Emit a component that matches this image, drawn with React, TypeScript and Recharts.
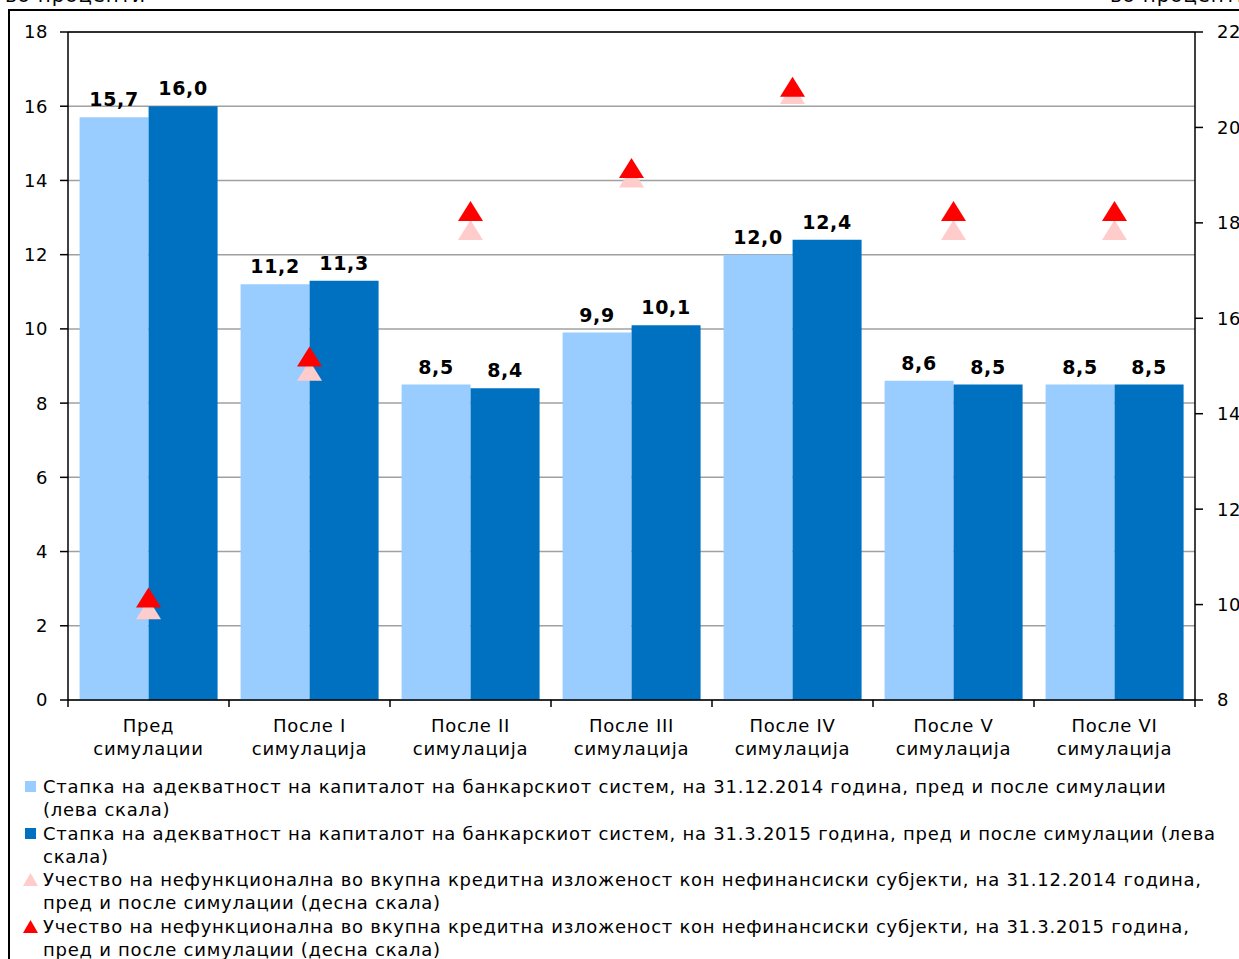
import React from "react";
import {
  ComposedChart,
  Bar,
  Line,
  XAxis,
  YAxis,
  CartesianGrid,
  LabelList,
  ReferenceLine,
} from "recharts";

const categories = [
  "Пред|симулации",
  "После I|симулација",
  "После II|симулација",
  "После III|симулација",
  "После IV|симулација",
  "После V|симулација",
  "После VI|симулација",
];
const car2014 = [15.7, 11.2, 8.5, 9.9, 12.0, 8.6, 8.5];
const car2015 = [16.0, 11.3, 8.4, 10.1, 12.4, 8.5, 8.5];
const npl2014 = [9.9, 14.9, 17.85, 18.95, 20.7, 17.85, 17.85];
const npl2015 = [10.15, 15.2, 18.25, 19.15, 20.85, 18.25, 18.25];

const leftTicks = [0, 2, 4, 6, 8, 10, 12, 14, 16, 18];
const rightTicks = [8, 10, 12, 14, 16, 18, 20, 22];

const legendItems = [
  {
    kind: "square",
    color: "#99CCFF",
    lines: [
      "Стапка на адекватност на капиталот на банкарскиот систем, на 31.12.2014 година, пред и после симулации",
      "(лева скала)",
    ],
  },
  {
    kind: "square",
    color: "#0070C0",
    lines: [
      "Стапка на адекватност на капиталот на банкарскиот систем, на 31.3.2015 година, пред и после симулации (лева",
      "скала)",
    ],
  },
  {
    kind: "triangle",
    color: "#FFCCCC",
    lines: [
      "Учество на нефункционална во вкупна кредитна изложеност кон нефинансиски субјекти, на 31.12.2014 година,",
      "пред и после симулации (десна скала)",
    ],
  },
  {
    kind: "triangle",
    color: "#FF0000",
    lines: [
      "Учество на нефункционална во вкупна кредитна изложеност кон нефинансиски субјекти, на 31.3.2015 година,",
      "пред и после симулации (десна скала)",
    ],
  },
];

const data = categories.map((c, i) => ({
  name: c,
  car2014: car2014[i],
  car2015: car2015[i],
  npl2014: npl2014[i],
  npl2015: npl2015[i],
}));

const FONT = "'DejaVu Sans', Verdana, sans-serif";
const PLOT_LEFT = 68;
const PLOT_RIGHT = 1195;
const STEP = (PLOT_RIGHT - PLOT_LEFT) / categories.length;

const fmt = (v: any) => Number(v).toFixed(1).replace(".", ",");

const CategoryTick = (props: any) => {
  const { x, y, payload, index } = props;
  const [a, b] = String(payload.value).split("|");
  const left = x - STEP / 2;
  const right = x + STEP / 2;
  const textStyle = { letterSpacing: 0.7 };
  return (
    <g>
      <line x1={left} y1={y} x2={left} y2={y + 7} stroke="#000" strokeWidth={1.5} />
      {index === categories.length - 1 && (
        <line x1={right} y1={y} x2={right} y2={y + 7} stroke="#000" strokeWidth={1.5} />
      )}
      <text x={x} y={y + 32} textAnchor="middle" fontSize={18} fontFamily={FONT} fill="#000" style={textStyle}>
        {a}
      </text>
      <text x={x} y={y + 55} textAnchor="middle" fontSize={18} fontFamily={FONT} fill="#000" style={textStyle}>
        {b}
      </text>
    </g>
  );
};

const triangle = (color: string) => (props: any) => {
  const { cx, cy, index } = props;
  if (cx == null || cy == null) return <g key={index} />;
  return (
    <polygon
      key={index}
      points={`${cx},${cy - 10} ${cx + 12.5},${cy + 10} ${cx - 12.5},${cy + 10}`}
      fill={color}
    />
  );
};

const labelStyle = {
  fill: "#000",
  fontSize: 19,
  fontWeight: "bold",
  fontFamily: FONT,
  letterSpacing: 0.7,
};

export default function App() {
  return (
    <div
      style={{
        position: "absolute",
        left: 0,
        top: 0,
        width: 1239,
        height: 959,
        overflow: "hidden",
        background: "#fff",
        fontFamily: FONT,
      }}
    >
      <div
        style={{
          position: "absolute",
          left: 8,
          top: 9,
          width: 1300,
          height: 1000,
          border: "2px solid #000",
          boxSizing: "border-box",
        }}
      />
      <div style={{ position: "absolute", left: 5, top: -17, fontSize: 20, letterSpacing: 0.8, color: "#000", whiteSpace: "nowrap" }}>
        во проценти
      </div>
      <div style={{ position: "absolute", left: 1110, top: -17, fontSize: 20, letterSpacing: 0.8, color: "#000", whiteSpace: "nowrap" }}>
        во проценти
      </div>

      <div style={{ position: "absolute", left: 0, top: 0 }}>
        <ComposedChart
          width={1239}
          height={770}
          data={data}
          margin={{ top: 32, right: 0, bottom: 10, left: 0 }}
          barCategoryGap="7.2%"
          barGap={0}
        >
          <CartesianGrid yAxisId="left" vertical={false} stroke="#a0a0a0" strokeWidth={1.5} />
          <XAxis
            dataKey="name"
            height={60}
            tickLine={false}
            tickSize={0}
            tickMargin={0}
            axisLine={{ stroke: "#000", strokeWidth: 1.5 }}
            tick={<CategoryTick />}
            interval={0}
          />
          <YAxis
            yAxisId="left"
            width={68}
            domain={[0, 18]}
            ticks={leftTicks}
            tickSize={8}
            tickMargin={12}
            axisLine={{ stroke: "#000", strokeWidth: 1.5 }}
            tickLine={{ stroke: "#000", strokeWidth: 1.5 }}
            tick={{ fill: "#000", fontSize: 18, fontFamily: FONT, letterSpacing: 0.6 }}
            allowDataOverflow
          />
          <YAxis
            yAxisId="right"
            orientation="right"
            width={44}
            domain={[8, 22]}
            ticks={rightTicks}
            tickSize={8}
            tickMargin={14}
            axisLine={{ stroke: "#000", strokeWidth: 1.5 }}
            tickLine={{ stroke: "#000", strokeWidth: 1.5 }}
            tick={{ fill: "#000", fontSize: 18, fontFamily: FONT, textAnchor: "start", letterSpacing: 0.6 }}
            allowDataOverflow
          />
          <ReferenceLine yAxisId="left" y={18} stroke="#000" strokeWidth={1.5} />
          <Bar yAxisId="left" dataKey="car2014" fill="#99CCFF" isAnimationActive={false}>
            <LabelList dataKey="car2014" position="top" offset={11} formatter={fmt} style={labelStyle} />
          </Bar>
          <Bar yAxisId="left" dataKey="car2015" fill="#0070C0" isAnimationActive={false}>
            <LabelList dataKey="car2015" position="top" offset={11} formatter={fmt} style={labelStyle} />
          </Bar>
          <Line
            yAxisId="right"
            dataKey="npl2014"
            stroke="none"
            dot={triangle("#FFCCCC")}
            activeDot={false}
            isAnimationActive={false}
          />
          <Line
            yAxisId="right"
            dataKey="npl2015"
            stroke="none"
            dot={triangle("#FF0000")}
            activeDot={false}
            isAnimationActive={false}
          />
        </ComposedChart>
      </div>

      <div
        style={{
          position: "absolute",
          left: 22,
          top: 775,
          fontSize: 18,
          letterSpacing: 0.75,
          color: "#000",
          lineHeight: "23.3px",
        }}
      >
        {legendItems.map((item, i) => (
          <div key={i} style={{ position: "relative", paddingLeft: 21, whiteSpace: "nowrap" }}>
            {item.kind === "square" ? (
              <span
                style={{
                  position: "absolute",
                  left: 3,
                  top: 6,
                  width: 11,
                  height: 11,
                  background: item.color,
                }}
              />
            ) : (
              <svg style={{ position: "absolute", left: 1, top: 5 }} width={15} height={13}>
                <polygon points="7.5,0 15,13 0,13" fill={item.color} />
              </svg>
            )}
            {item.lines.map((l, j) => (
              <div key={j}>{l}</div>
            ))}
          </div>
        ))}
      </div>
    </div>
  );
}
